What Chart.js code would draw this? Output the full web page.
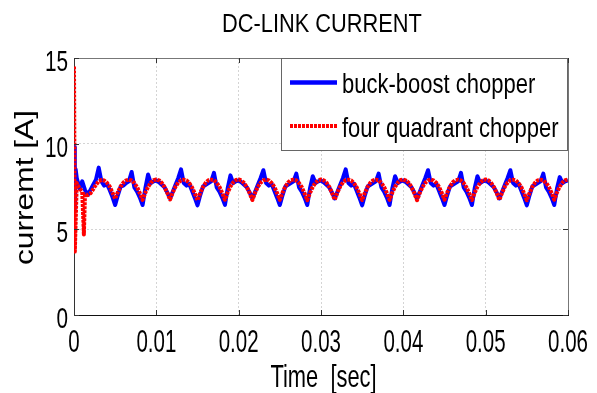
<!DOCTYPE html>
<html>
<head>
<meta charset="utf-8">
<script src="https://cdn.jsdelivr.net/npm/chart.js@4.4.0/dist/chart.umd.min.js"></script>
<style>
body{margin:0;background:#fff;}
</style>
</head>
<body>
<canvas id="chart" width="597" height="393"></canvas>
<script>
// tick labels
var xTickLabels = ['0', '0.01', '0.02', '0.03', '0.04', '0.05', '0.06'];
var yTickLabels = ['0', '5', '10', '15'];
var seriesNames = ['buck-boost chopper', 'four quadrant chopper'];

// samples every 1/3000 s, from 0 to 0.06 s
var sampleStep = 1 / 3000;

// buck-boost chopper (blue)
var buckBoost = [
  9.8, 8.0, 7.4, 7.8, 7.3, 7.0, 7.3, 7.6, 7.9, 8.6, 7.8, 7.55, 7.65, 7.3, 6.9,
  6.42, 7.0, 7.5, 7.55, 7.7, 7.8, 8.35, 7.45, 7.2, 6.85,
  6.42, 7.4, 8.2, 7.7, 7.8, 7.85, 7.75, 7.6, 7.45, 7.15,
  6.8, 7.2, 7.6, 8.0, 8.5, 7.7, 7.55, 7.65, 7.25, 6.85,
  6.4, 7.0, 7.5, 7.6, 7.7, 7.8, 8.3, 7.45, 7.2, 6.85,
  6.43, 7.4, 8.15, 7.7, 7.8, 7.85, 7.75, 7.6, 7.45, 7.15,
  6.8, 7.2, 7.6, 8.0, 8.45, 7.7, 7.55, 7.65, 7.25, 6.85,
  6.42, 7.0, 7.5, 7.6, 7.7, 7.8, 8.25, 7.45, 7.2, 6.85,
  6.42, 7.4, 8.1, 7.7, 7.8, 7.85, 7.75, 7.6, 7.45, 7.15,
  6.8, 7.2, 7.6, 8.0, 8.5, 7.7, 7.55, 7.65, 7.25, 6.85,
  6.4, 7.0, 7.5, 7.6, 7.7, 7.8, 8.25, 7.45, 7.2, 6.85,
  6.42, 7.4, 8.1, 7.7, 7.8, 7.85, 7.75, 7.6, 7.45, 7.15,
  6.8, 7.2, 7.6, 8.0, 8.45, 7.7, 7.55, 7.65, 7.25, 6.85,
  6.42, 7.0, 7.5, 7.6, 7.7, 7.8, 8.3, 7.45, 7.2, 6.85,
  6.42, 7.4, 8.1, 7.7, 7.8, 7.85, 7.75, 7.6, 7.45, 7.15,
  6.8, 7.2, 7.6, 8.0, 8.45, 7.7, 7.55, 7.65, 7.25, 6.85,
  6.4, 7.0, 7.5, 7.6, 7.7, 7.8, 8.25, 7.45, 7.2, 6.85,
  6.42, 7.4, 8.05, 7.7, 7.8, 7.85
];

// four quadrant chopper (red)
var fourQuadrant = [
  14.5, 7.7, 7.4, 7.2, 7.05, 7.0, 7.1, 7.35, 7.6, 7.8, 7.88, 7.85, 7.72, 7.5, 7.15,
  6.78, 7.18, 7.5, 7.73, 7.86, 7.9, 7.85, 7.7, 7.46, 7.1,
  6.72, 7.14, 7.48, 7.72, 7.87, 7.91, 7.86, 7.71, 7.47, 7.12,
  6.74, 7.16, 7.49, 7.73, 7.86, 7.9, 7.85, 7.7, 7.45, 7.1,
  6.7, 7.13, 7.47, 7.72, 7.87, 7.9, 7.86, 7.72, 7.48, 7.13,
  6.73, 7.15, 7.5, 7.74, 7.88, 7.91, 7.85, 7.7, 7.46, 7.11,
  6.71, 7.14, 7.48, 7.72, 7.86, 7.9, 7.86, 7.71, 7.47, 7.12,
  6.72, 7.15, 7.49, 7.73, 7.87, 7.9, 7.85, 7.7, 7.46, 7.1,
  6.7, 7.13, 7.48, 7.72, 7.86, 7.91, 7.86, 7.72, 7.48, 7.13,
  6.73, 7.16, 7.5, 7.74, 7.87, 7.9, 7.85, 7.7, 7.45, 7.1,
  6.71, 7.14, 7.48, 7.72, 7.86, 7.9, 7.86, 7.71, 7.47, 7.12,
  6.72, 7.15, 7.49, 7.73, 7.88, 7.91, 7.85, 7.7, 7.46, 7.11,
  6.7, 7.13, 7.47, 7.72, 7.86, 7.9, 7.86, 7.72, 7.48, 7.13,
  6.73, 7.16, 7.5, 7.74, 7.87, 7.9, 7.85, 7.7, 7.45, 7.1,
  6.71, 7.14, 7.48, 7.72, 7.86, 7.91, 7.86, 7.71, 7.47, 7.12,
  6.72, 7.15, 7.49, 7.73, 7.87, 7.9, 7.85, 7.7, 7.46, 7.11,
  6.7, 7.13, 7.48, 7.72, 7.86, 7.9, 7.86, 7.72, 7.48, 7.13,
  6.73, 7.16, 7.5, 7.74, 7.87, 7.9
];

// start-up transient, between the regular samples
var buckStartTime = [0.0001, 0.0002];
var buckStartVal = [6.2, 8.5];
var fourStartTime = [0.0001, 0.0012];
var fourStartVal = [3.7, 4.7];

function toPoints(vals, extraT, extraV) {
  var pts = [];
  for (var i = 0; i < vals.length; i++) pts.push({x: i * sampleStep, y: vals[i]});
  for (var j = 0; j < extraT.length; j++) pts.push({x: extraT[j], y: extraV[j]});
  pts.sort(function (a, b) { return a.x - b.x; });
  return pts;
}

var FONT = '"Liberation Sans", Arial, sans-serif';
// text in the picture is stretched vertically, so draw with separate h/v sizes
function stretchText(ctx, txt, x, y, fh, fv, align, baseline, rot) {
  ctx.save();
  ctx.translate(x, y);
  if (rot) ctx.rotate(rot);
  ctx.scale(fh / fv, 1);
  ctx.font = fv + 'px ' + FONT;
  ctx.textAlign = align;
  ctx.textBaseline = baseline;
  ctx.fillStyle = '#000';
  ctx.fillText(txt, 0, 0);
  ctx.restore();
}

var decorations = {
  id: 'decorations',
  afterDraw: function (chart) {
    var ctx = chart.ctx;
    var a = chart.chartArea;
    var xs = chart.scales.x, ys = chart.scales.y;

    // box top/right
    ctx.save();
    ctx.strokeStyle = '#777';
    ctx.lineWidth = 1;
    ctx.beginPath();
    ctx.moveTo(a.left, a.top + 0.5); ctx.lineTo(a.right + 0.5, a.top + 0.5);
    ctx.lineTo(a.right + 0.5, a.bottom);
    ctx.stroke();

    // inward tick marks
    ctx.strokeStyle = '#333';
    ctx.beginPath();
    xs.ticks.forEach(function (t) {
      var px = Math.round(xs.getPixelForValue(t.value)) + 0.5;
      ctx.moveTo(px, a.bottom); ctx.lineTo(px, a.bottom - 5);
      ctx.moveTo(px, a.top); ctx.lineTo(px, a.top + 5);
    });
    ys.ticks.forEach(function (t) {
      var py = Math.round(ys.getPixelForValue(t.value)) + 0.5;
      ctx.moveTo(a.left, py); ctx.lineTo(a.left + 5, py);
      ctx.moveTo(a.right, py); ctx.lineTo(a.right - 5, py);
    });
    ctx.stroke();
    ctx.restore();

    // tick labels
    xs.ticks.forEach(function (t, i) {
      stretchText(ctx, xTickLabels[i], xs.getPixelForValue(t.value), 352, 20.5, 32, 'center', 'alphabetic');
    });
    ys.ticks.forEach(function (t, i) {
      stretchText(ctx, yTickLabels[i], 68, ys.getPixelForValue(t.value) + 13, 20.7, 30, 'right', 'alphabetic');
    });

    // titles
    stretchText(ctx, 'DC-LINK CURRENT', 322, 32, 21.8, 26.5, 'center', 'alphabetic');
    stretchText(ctx, 'Time  [sec]', 323.5, 387, 21.9, 30.7, 'center', 'alphabetic');
    stretchText(ctx, 'curremt [A]', 26, 187.5, 31.7, 25, 'center', 'middle', -Math.PI / 2);

    // legend
    ctx.save();
    ctx.fillStyle = '#fff';
    ctx.fillRect(281, 58, 286, 92);
    ctx.strokeStyle = '#666';
    ctx.lineWidth = 1;
    ctx.strokeRect(281.5, 58.5, 286, 92);
    var ds = chart.data.datasets;
    ctx.lineWidth = 4.5;
    ctx.strokeStyle = ds[0].borderColor;
    ctx.beginPath(); ctx.moveTo(290, 82.5); ctx.lineTo(337, 82.5); ctx.stroke();
    ctx.lineWidth = 4;
    ctx.strokeStyle = ds[1].borderColor;
    ctx.setLineDash(ds[1].borderDash);
    ctx.beginPath(); ctx.moveTo(290, 126); ctx.lineTo(337, 126); ctx.stroke();
    ctx.restore();
    stretchText(ctx, ds[0].label, 342, 93.3, 22, 27.5, 'left', 'alphabetic');
    stretchText(ctx, ds[1].label, 342, 136.5, 22, 27.5, 'left', 'alphabetic');
  }
};

var chart = new Chart(document.getElementById('chart'), {
  type: 'line',
  data: {
    datasets: [{
      label: seriesNames[0],
      data: toPoints(buckBoost, buckStartTime, buckStartVal),
      borderColor: '#0000ff',
      borderWidth: 4,
      borderJoinStyle: 'round',
      pointRadius: 0,
      tension: 0,
      order: 2
    }, {
      label: seriesNames[1],
      data: toPoints(fourQuadrant, fourStartTime, fourStartVal),
      borderColor: '#ff0000',
      borderWidth: 4,
      borderJoinStyle: 'round',
      borderDash: [3, 1],
      pointRadius: 0,
      tension: 0,
      order: 1
    }]
  },
  options: {
    responsive: false,
    animation: false,
    layout: {padding: {top: 58, right: 29, left: 0, bottom: 0}},
    plugins: {legend: {display: false}, title: {display: false}, tooltip: {enabled: false}},
    scales: {
      x: {
        type: 'linear', min: 0, max: 0.06,
        ticks: {stepSize: 0.01, display: false},
        grid: {color: '#d4d4d4', lineWidth: 1, drawTicks: false},
        border: {color: '#111', width: 1, dash: [2, 2]},
        afterFit: function (s) { s.height = 78; }
      },
      y: {
        min: 0, max: 15,
        ticks: {stepSize: 5, display: false},
        grid: {color: '#d4d4d4', lineWidth: 1, drawTicks: false},
        border: {color: '#333', width: 1, dash: [2, 2]},
        afterFit: function (s) { s.height; s.width = 74; }
      }
    }
  },
  plugins: [decorations]
});
</script>
</body>
</html>
